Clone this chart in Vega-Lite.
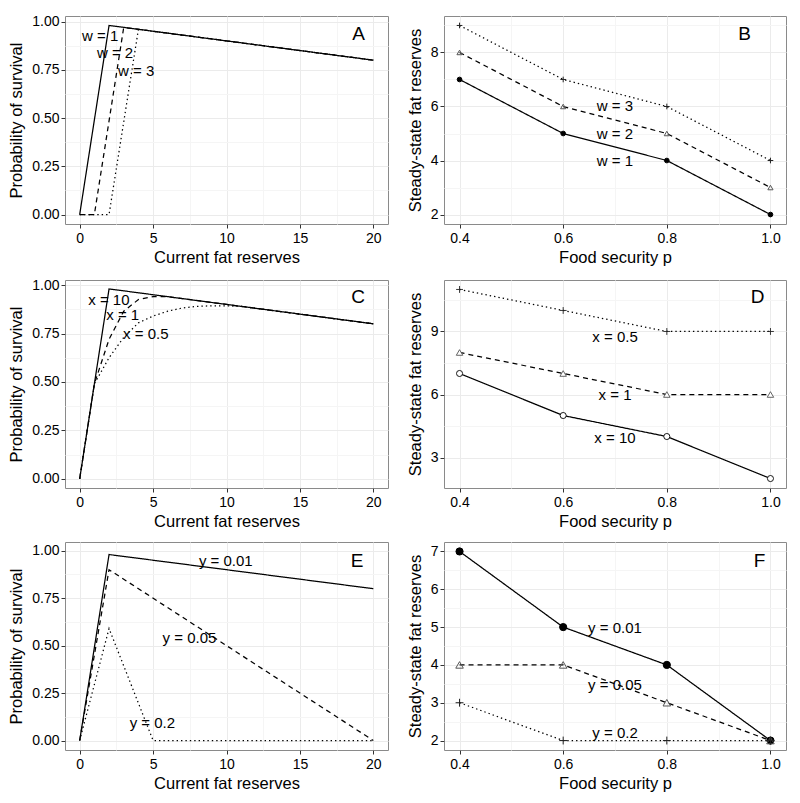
{
  "$schema": "https://vega.github.io/schema/vega-lite/v6.json",
  "padding": {"left": 8, "top": 14, "right": 5, "bottom": 5},
  "background": "white",
  "config": {
    "font": "Liberation Sans",
    "view": {"stroke": "#8a8a8a", "strokeWidth": 1},
    "axis": {
      "labelFontSize": 14, "labelColor": "black", "titleFontSize": 16.5, "titleFontWeight": "normal",
      "titleColor": "black", "tickColor": "#333333", "tickSize": 4, "domain": false,
      "gridColor": "#ebebeb", "labelFont": "Liberation Sans", "titleFont": "Liberation Sans"
    },
    "axisX": {"labelPadding": 3, "titlePadding": 4},
    "axisY": {"labelPadding": 2, "titlePadding": 7},
    "text": {"font": "Liberation Sans", "color": "black"}
  },
  "datasets": {
    "curves": [
      {"panel": "A", "s": "w = 1", "x": 0, "y": 0},
      {"panel": "A", "s": "w = 1", "x": 2, "y": 0.98},
      {"panel": "A", "s": "w = 1", "x": 20, "y": 0.8},
      {"panel": "A", "s": "w = 2", "x": 0, "y": 0},
      {"panel": "A", "s": "w = 2", "x": 1, "y": 0},
      {"panel": "A", "s": "w = 2", "x": 3, "y": 0.97},
      {"panel": "A", "s": "w = 2", "x": 20, "y": 0.8},
      {"panel": "A", "s": "w = 3", "x": 0, "y": 0},
      {"panel": "A", "s": "w = 3", "x": 2, "y": 0},
      {"panel": "A", "s": "w = 3", "x": 4, "y": 0.96},
      {"panel": "A", "s": "w = 3", "x": 20, "y": 0.8},
      {"panel": "C", "s": "x = 10", "x": 0, "y": 0},
      {"panel": "C", "s": "x = 10", "x": 2, "y": 0.98},
      {"panel": "C", "s": "x = 10", "x": 20, "y": 0.8},
      {"panel": "C", "s": "x = 1", "x": 0, "y": 0},
      {"panel": "C", "s": "x = 1", "x": 1, "y": 0.49},
      {"panel": "C", "s": "x = 1", "x": 2, "y": 0.72},
      {"panel": "C", "s": "x = 1", "x": 3, "y": 0.865},
      {"panel": "C", "s": "x = 1", "x": 4, "y": 0.925},
      {"panel": "C", "s": "x = 1", "x": 5, "y": 0.94},
      {"panel": "C", "s": "x = 1", "x": 6, "y": 0.94},
      {"panel": "C", "s": "x = 1", "x": 7, "y": 0.93},
      {"panel": "C", "s": "x = 1", "x": 20, "y": 0.8},
      {"panel": "C", "s": "x = 0.5", "x": 0, "y": 0},
      {"panel": "C", "s": "x = 0.5", "x": 1, "y": 0.49},
      {"panel": "C", "s": "x = 0.5", "x": 2, "y": 0.625},
      {"panel": "C", "s": "x = 0.5", "x": 3, "y": 0.73},
      {"panel": "C", "s": "x = 0.5", "x": 4, "y": 0.805},
      {"panel": "C", "s": "x = 0.5", "x": 5, "y": 0.84},
      {"panel": "C", "s": "x = 0.5", "x": 6, "y": 0.865},
      {"panel": "C", "s": "x = 0.5", "x": 7, "y": 0.882},
      {"panel": "C", "s": "x = 0.5", "x": 8, "y": 0.89},
      {"panel": "C", "s": "x = 0.5", "x": 9, "y": 0.893},
      {"panel": "C", "s": "x = 0.5", "x": 10, "y": 0.893},
      {"panel": "C", "s": "x = 0.5", "x": 11, "y": 0.89},
      {"panel": "C", "s": "x = 0.5", "x": 20, "y": 0.8},
      {"panel": "E", "s": "y = 0.01", "x": 0, "y": 0},
      {"panel": "E", "s": "y = 0.01", "x": 2, "y": 0.98},
      {"panel": "E", "s": "y = 0.01", "x": 20, "y": 0.8},
      {"panel": "E", "s": "y = 0.05", "x": 0, "y": 0},
      {"panel": "E", "s": "y = 0.05", "x": 2, "y": 0.9},
      {"panel": "E", "s": "y = 0.05", "x": 20, "y": 0},
      {"panel": "E", "s": "y = 0.2", "x": 0, "y": 0},
      {"panel": "E", "s": "y = 0.2", "x": 2, "y": 0.59},
      {"panel": "E", "s": "y = 0.2", "x": 5, "y": 0},
      {"panel": "E", "s": "y = 0.2", "x": 20, "y": 0}
    ],
    "steady": [
      {"panel": "B", "s": "w = 1", "p": 0.4, "y": 7},
      {"panel": "B", "s": "w = 1", "p": 0.6, "y": 5},
      {"panel": "B", "s": "w = 1", "p": 0.8, "y": 4},
      {"panel": "B", "s": "w = 1", "p": 1.0, "y": 2},
      {"panel": "B", "s": "w = 2", "p": 0.4, "y": 8},
      {"panel": "B", "s": "w = 2", "p": 0.6, "y": 6},
      {"panel": "B", "s": "w = 2", "p": 0.8, "y": 5},
      {"panel": "B", "s": "w = 2", "p": 1.0, "y": 3},
      {"panel": "B", "s": "w = 3", "p": 0.4, "y": 9},
      {"panel": "B", "s": "w = 3", "p": 0.6, "y": 7},
      {"panel": "B", "s": "w = 3", "p": 0.8, "y": 6},
      {"panel": "B", "s": "w = 3", "p": 1.0, "y": 4},
      {"panel": "D", "s": "x = 10", "p": 0.4, "y": 7},
      {"panel": "D", "s": "x = 10", "p": 0.6, "y": 5},
      {"panel": "D", "s": "x = 10", "p": 0.8, "y": 4},
      {"panel": "D", "s": "x = 10", "p": 1.0, "y": 2},
      {"panel": "D", "s": "x = 1", "p": 0.4, "y": 8},
      {"panel": "D", "s": "x = 1", "p": 0.6, "y": 7},
      {"panel": "D", "s": "x = 1", "p": 0.8, "y": 6},
      {"panel": "D", "s": "x = 1", "p": 1.0, "y": 6},
      {"panel": "D", "s": "x = 0.5", "p": 0.4, "y": 11},
      {"panel": "D", "s": "x = 0.5", "p": 0.6, "y": 10},
      {"panel": "D", "s": "x = 0.5", "p": 0.8, "y": 9},
      {"panel": "D", "s": "x = 0.5", "p": 1.0, "y": 9},
      {"panel": "F", "s": "y = 0.01", "p": 0.4, "y": 7},
      {"panel": "F", "s": "y = 0.01", "p": 0.6, "y": 5},
      {"panel": "F", "s": "y = 0.01", "p": 0.8, "y": 4},
      {"panel": "F", "s": "y = 0.01", "p": 1.0, "y": 2},
      {"panel": "F", "s": "y = 0.05", "p": 0.4, "y": 4},
      {"panel": "F", "s": "y = 0.05", "p": 0.6, "y": 4},
      {"panel": "F", "s": "y = 0.05", "p": 0.8, "y": 3},
      {"panel": "F", "s": "y = 0.05", "p": 1.0, "y": 2},
      {"panel": "F", "s": "y = 0.2", "p": 0.4, "y": 3},
      {"panel": "F", "s": "y = 0.2", "p": 0.6, "y": 2},
      {"panel": "F", "s": "y = 0.2", "p": 0.8, "y": 2},
      {"panel": "F", "s": "y = 0.2", "p": 1.0, "y": 2}
    ],
    "notes": [
      {"panel": "A", "x": 1.39, "y": 0.926, "t": "w = 1"},
      {"panel": "A", "x": 2.41, "y": 0.838, "t": "w = 2"},
      {"panel": "A", "x": 3.85, "y": 0.742, "t": "w = 3"},
      {"panel": "B", "x": 0.7, "y": 6, "t": "w = 3"},
      {"panel": "B", "x": 0.7, "y": 5, "t": "w = 2"},
      {"panel": "B", "x": 0.7, "y": 4, "t": "w = 1"},
      {"panel": "C", "x": 1.99, "y": 0.922, "t": "x = 10"},
      {"panel": "C", "x": 2.93, "y": 0.843, "t": "x = 1"},
      {"panel": "C", "x": 4.5, "y": 0.746, "t": "x = 0.5"},
      {"panel": "D", "x": 0.7, "y": 8.73, "t": "x = 0.5"},
      {"panel": "D", "x": 0.7, "y": 5.96, "t": "x = 1"},
      {"panel": "D", "x": 0.7, "y": 3.93, "t": "x = 10"},
      {"panel": "E", "x": 9.95, "y": 0.944, "t": "y = 0.01"},
      {"panel": "E", "x": 7.48, "y": 0.539, "t": "y = 0.05"},
      {"panel": "E", "x": 4.95, "y": 0.091, "t": "y = 0.2"},
      {"panel": "F", "x": 0.7, "y": 4.97, "t": "y = 0.01"},
      {"panel": "F", "x": 0.7, "y": 3.47, "t": "y = 0.05"},
      {"panel": "F", "x": 0.7, "y": 2.19, "t": "y = 0.2"}
    ],
    "letters": [
      {"panel": "A", "x": 19, "y": 0.935, "t": "A"},
      {"panel": "B", "x": 0.95, "y": 8.68, "t": "B"},
      {"panel": "C", "x": 18.96, "y": 0.94, "t": "C"},
      {"panel": "D", "x": 0.975, "y": 10.63, "t": "D"},
      {"panel": "E", "x": 18.9, "y": 0.944, "t": "E"},
      {"panel": "F", "x": 0.979, "y": 6.74, "t": "F"}
    ]
  },
  "spacing": 11,
  "vconcat": [
    {
      "spacing": 17,
      "hconcat": [
        {
          "width": 323, "height": 208,
          "layer": [
            {"data": {"name": "curves"}, "transform": [{"filter": "datum.panel == 'A'"}],
             "mark": {"type": "line", "color": "black", "strokeWidth": 1.25},
             "encoding": {
               "x": {"field": "x", "type": "quantitative", "scale": {"domain": [-1, 21], "nice": false, "zero": false}, "axis": {"values": [2.5, 7.5, 12.5, 17.5], "grid": true, "gridColor": "#f5f5f5", "labels": false, "ticks": false, "domain": false, "title": null, "orient": "top"}},
               "y": {"field": "y", "type": "quantitative", "scale": {"domain": [-0.049, 1.029], "nice": false, "zero": false}, "axis": {"values": [0.125, 0.375, 0.625, 0.875], "grid": true, "gridColor": "#f5f5f5", "labels": false, "ticks": false, "domain": false, "title": null, "orient": "right"}},
               "strokeDash": {"field": "s", "type": "nominal", "scale": {"domain": ["w = 1", "w = 2", "w = 3"], "range": [[1, 0], [5, 4], [1.4, 3]]}, "legend": null}
             }},
            {"data": {"name": "notes"}, "transform": [{"filter": "datum.panel == 'A'"}],
             "mark": {"type": "text", "fontSize": 15},
             "encoding": {
               "x": {"field": "x", "type": "quantitative", "scale": {"domain": [-1, 21], "nice": false, "zero": false}, "axis": {"values": [0, 5, 10, 15, 20], "title": "Current fat reserves", "orient": "bottom", "grid": true}},
               "y": {"field": "y", "type": "quantitative", "scale": {"domain": [-0.049, 1.029], "nice": false, "zero": false}, "axis": {"values": [0, 0.25, 0.5, 0.75, 1], "format": ".2f", "title": "Probability of survival", "orient": "left", "grid": true}},
               "text": {"field": "t"}
             }},
            {"data": {"name": "letters"}, "transform": [{"filter": "datum.panel == 'A'"}],
             "mark": {"type": "text", "fontSize": 19},
             "encoding": {
               "x": {"field": "x", "type": "quantitative", "scale": {"domain": [-1, 21], "nice": false, "zero": false}, "axis": null},
               "y": {"field": "y", "type": "quantitative", "scale": {"domain": [-0.049, 1.029], "nice": false, "zero": false}, "axis": null},
               "text": {"field": "t"}
             }}
          ],
          "resolve": {"axis": {"x": "independent", "y": "independent"}}
        },
        {
          "width": 342, "height": 208,
          "layer": [
            {"data": {"name": "steady"}, "transform": [{"filter": "datum.panel == 'B'"}],
             "mark": {"type": "line", "color": "black", "strokeWidth": 1.25},
             "encoding": {
               "x": {"field": "p", "type": "quantitative", "scale": {"domain": [0.37, 1.03], "nice": false, "zero": false}, "axis": {"values": [0.5, 0.7, 0.9], "grid": true, "gridColor": "#f5f5f5", "labels": false, "ticks": false, "domain": false, "title": null, "orient": "top"}},
               "y": {"field": "y", "type": "quantitative", "scale": {"domain": [1.65, 9.35], "nice": false, "zero": false}, "axis": {"values": [3, 5, 7, 9], "grid": true, "gridColor": "#f5f5f5", "labels": false, "ticks": false, "domain": false, "title": null, "orient": "right"}},
               "strokeDash": {"field": "s", "type": "nominal", "scale": {"domain": ["w = 1", "w = 2", "w = 3"], "range": [[1, 0], [5, 4], [1.4, 3]]}, "legend": null}
             }},
            {"data": {"name": "steady"}, "transform": [{"filter": "datum.panel == 'B'"}],
             "mark": {"type": "point", "strokeWidth": 1, "opacity": 1, "filled": false},
             "encoding": {
               "x": {"field": "p", "type": "quantitative", "scale": {"domain": [0.37, 1.03], "nice": false, "zero": false}, "axis": {"values": [0.4, 0.6, 0.8, 1.0], "format": ".1f", "title": "Food security p", "orient": "bottom", "grid": true}},
               "y": {"field": "y", "type": "quantitative", "scale": {"domain": [1.65, 9.35], "nice": false, "zero": false}, "axis": {"values": [2, 4, 6, 8], "title": "Steady-state fat reserves", "orient": "left", "grid": true}},
               "shape": {"field": "s", "type": "nominal", "scale": {"domain": ["w = 1", "w = 2", "w = 3"], "range": ["circle", "triangle-up", "M-1,0H1M0,-1V1"]}, "legend": null},
               "fill": {"field": "s", "type": "nominal", "scale": {"domain": ["w = 1", "w = 2", "w = 3"], "range": ["black", "transparent", "transparent"]}, "legend": null},
               "stroke": {"field": "s", "type": "nominal", "scale": {"domain": ["w = 1", "w = 2", "w = 3"], "range": ["black", "#555555", "#222222"]}, "legend": null},
               "size": {"field": "s", "type": "nominal", "scale": {"domain": ["w = 1", "w = 2", "w = 3"], "range": [22, 62, 72]}, "legend": null}
             }},
            {"data": {"name": "notes"}, "transform": [{"filter": "datum.panel == 'B'"}],
             "mark": {"type": "text", "fontSize": 15},
             "encoding": {
               "x": {"field": "x", "type": "quantitative", "scale": {"domain": [0.37, 1.03], "nice": false, "zero": false}, "axis": null},
               "y": {"field": "y", "type": "quantitative", "scale": {"domain": [1.65, 9.35], "nice": false, "zero": false}, "axis": null},
               "text": {"field": "t"}
             }},
            {"data": {"name": "letters"}, "transform": [{"filter": "datum.panel == 'B'"}],
             "mark": {"type": "text", "fontSize": 19},
             "encoding": {
               "x": {"field": "x", "type": "quantitative", "scale": {"domain": [0.37, 1.03], "nice": false, "zero": false}, "axis": null},
               "y": {"field": "y", "type": "quantitative", "scale": {"domain": [1.65, 9.35], "nice": false, "zero": false}, "axis": null},
               "text": {"field": "t"}
             }}
          ],
          "resolve": {"axis": {"x": "independent", "y": "independent"}}
        }
      ]
    },
    {
      "spacing": 17,
      "hconcat": [
        {
          "width": 323, "height": 208,
          "layer": [
            {"data": {"name": "curves"}, "transform": [{"filter": "datum.panel == 'C'"}],
             "mark": {"type": "line", "color": "black", "strokeWidth": 1.25},
             "encoding": {
               "x": {"field": "x", "type": "quantitative", "scale": {"domain": [-1, 21], "nice": false, "zero": false}, "axis": {"values": [2.5, 7.5, 12.5, 17.5], "grid": true, "gridColor": "#f5f5f5", "labels": false, "ticks": false, "domain": false, "title": null, "orient": "top"}},
               "y": {"field": "y", "type": "quantitative", "scale": {"domain": [-0.047, 1.026], "nice": false, "zero": false}, "axis": {"values": [0.125, 0.375, 0.625, 0.875], "grid": true, "gridColor": "#f5f5f5", "labels": false, "ticks": false, "domain": false, "title": null, "orient": "right"}},
               "strokeDash": {"field": "s", "type": "nominal", "scale": {"domain": ["x = 10", "x = 1", "x = 0.5"], "range": [[1, 0], [5, 4], [1.4, 3]]}, "legend": null}
             }},
            {"data": {"name": "notes"}, "transform": [{"filter": "datum.panel == 'C'"}],
             "mark": {"type": "text", "fontSize": 15},
             "encoding": {
               "x": {"field": "x", "type": "quantitative", "scale": {"domain": [-1, 21], "nice": false, "zero": false}, "axis": {"values": [0, 5, 10, 15, 20], "title": "Current fat reserves", "orient": "bottom", "grid": true}},
               "y": {"field": "y", "type": "quantitative", "scale": {"domain": [-0.047, 1.026], "nice": false, "zero": false}, "axis": {"values": [0, 0.25, 0.5, 0.75, 1], "format": ".2f", "title": "Probability of survival", "orient": "left", "grid": true}},
               "text": {"field": "t"}
             }},
            {"data": {"name": "letters"}, "transform": [{"filter": "datum.panel == 'C'"}],
             "mark": {"type": "text", "fontSize": 19},
             "encoding": {
               "x": {"field": "x", "type": "quantitative", "scale": {"domain": [-1, 21], "nice": false, "zero": false}, "axis": null},
               "y": {"field": "y", "type": "quantitative", "scale": {"domain": [-0.047, 1.026], "nice": false, "zero": false}, "axis": null},
               "text": {"field": "t"}
             }}
          ],
          "resolve": {"axis": {"x": "independent", "y": "independent"}}
        },
        {
          "width": 342, "height": 208,
          "layer": [
            {"data": {"name": "steady"}, "transform": [{"filter": "datum.panel == 'D'"}],
             "mark": {"type": "line", "color": "black", "strokeWidth": 1.25},
             "encoding": {
               "x": {"field": "p", "type": "quantitative", "scale": {"domain": [0.37, 1.03], "nice": false, "zero": false}, "axis": {"values": [0.5, 0.7, 0.9], "grid": true, "gridColor": "#f5f5f5", "labels": false, "ticks": false, "domain": false, "title": null, "orient": "top"}},
               "y": {"field": "y", "type": "quantitative", "scale": {"domain": [1.55, 11.45], "nice": false, "zero": false}, "axis": {"values": [4.5, 7.5, 10.5], "grid": true, "gridColor": "#f5f5f5", "labels": false, "ticks": false, "domain": false, "title": null, "orient": "right"}},
               "strokeDash": {"field": "s", "type": "nominal", "scale": {"domain": ["x = 10", "x = 1", "x = 0.5"], "range": [[1, 0], [5, 4], [1.4, 3]]}, "legend": null}
             }},
            {"data": {"name": "steady"}, "transform": [{"filter": "datum.panel == 'D'"}],
             "mark": {"type": "point", "strokeWidth": 0.9, "opacity": 1, "filled": false, "fill": "white"},
             "encoding": {
               "x": {"field": "p", "type": "quantitative", "scale": {"domain": [0.37, 1.03], "nice": false, "zero": false}, "axis": {"values": [0.4, 0.6, 0.8, 1.0], "format": ".1f", "title": "Food security p", "orient": "bottom", "grid": true}},
               "y": {"field": "y", "type": "quantitative", "scale": {"domain": [1.55, 11.45], "nice": false, "zero": false}, "axis": {"values": [3, 6, 9], "title": "Steady-state fat reserves", "orient": "left", "grid": true}},
               "shape": {"field": "s", "type": "nominal", "scale": {"domain": ["x = 10", "x = 1", "x = 0.5"], "range": ["circle", "triangle-up", "M-1,0H1M0,-1V1"]}, "legend": null},
               "stroke": {"field": "s", "type": "nominal", "scale": {"domain": ["x = 10", "x = 1", "x = 0.5"], "range": ["#555555", "#555555", "#222222"]}, "legend": null},
               "size": {"field": "s", "type": "nominal", "scale": {"domain": ["x = 10", "x = 1", "x = 0.5"], "range": [24, 62, 72]}, "legend": null}
             }},
            {"data": {"name": "notes"}, "transform": [{"filter": "datum.panel == 'D'"}],
             "mark": {"type": "text", "fontSize": 15},
             "encoding": {
               "x": {"field": "x", "type": "quantitative", "scale": {"domain": [0.37, 1.03], "nice": false, "zero": false}, "axis": null},
               "y": {"field": "y", "type": "quantitative", "scale": {"domain": [1.55, 11.45], "nice": false, "zero": false}, "axis": null},
               "text": {"field": "t"}
             }},
            {"data": {"name": "letters"}, "transform": [{"filter": "datum.panel == 'D'"}],
             "mark": {"type": "text", "fontSize": 19},
             "encoding": {
               "x": {"field": "x", "type": "quantitative", "scale": {"domain": [0.37, 1.03], "nice": false, "zero": false}, "axis": null},
               "y": {"field": "y", "type": "quantitative", "scale": {"domain": [1.55, 11.45], "nice": false, "zero": false}, "axis": null},
               "text": {"field": "t"}
             }}
          ],
          "resolve": {"axis": {"x": "independent", "y": "independent"}}
        }
      ]
    },
    {
      "spacing": 17,
      "hconcat": [
        {
          "width": 323, "height": 208,
          "layer": [
            {"data": {"name": "curves"}, "transform": [{"filter": "datum.panel == 'E'"}],
             "mark": {"type": "line", "color": "black", "strokeWidth": 1.25},
             "encoding": {
               "x": {"field": "x", "type": "quantitative", "scale": {"domain": [-1, 21], "nice": false, "zero": false}, "axis": {"values": [2.5, 7.5, 12.5, 17.5], "grid": true, "gridColor": "#f5f5f5", "labels": false, "ticks": false, "domain": false, "title": null, "orient": "top"}},
               "y": {"field": "y", "type": "quantitative", "scale": {"domain": [-0.05, 1.046], "nice": false, "zero": false}, "axis": {"values": [0.125, 0.375, 0.625, 0.875], "grid": true, "gridColor": "#f5f5f5", "labels": false, "ticks": false, "domain": false, "title": null, "orient": "right"}},
               "strokeDash": {"field": "s", "type": "nominal", "scale": {"domain": ["y = 0.01", "y = 0.05", "y = 0.2"], "range": [[1, 0], [5, 4], [1.4, 3]]}, "legend": null}
             }},
            {"data": {"name": "notes"}, "transform": [{"filter": "datum.panel == 'E'"}],
             "mark": {"type": "text", "fontSize": 15},
             "encoding": {
               "x": {"field": "x", "type": "quantitative", "scale": {"domain": [-1, 21], "nice": false, "zero": false}, "axis": {"values": [0, 5, 10, 15, 20], "title": "Current fat reserves", "orient": "bottom", "grid": true}},
               "y": {"field": "y", "type": "quantitative", "scale": {"domain": [-0.05, 1.046], "nice": false, "zero": false}, "axis": {"values": [0, 0.25, 0.5, 0.75, 1], "format": ".2f", "title": "Probability of survival", "orient": "left", "grid": true}},
               "text": {"field": "t"}
             }},
            {"data": {"name": "letters"}, "transform": [{"filter": "datum.panel == 'E'"}],
             "mark": {"type": "text", "fontSize": 19},
             "encoding": {
               "x": {"field": "x", "type": "quantitative", "scale": {"domain": [-1, 21], "nice": false, "zero": false}, "axis": null},
               "y": {"field": "y", "type": "quantitative", "scale": {"domain": [-0.05, 1.046], "nice": false, "zero": false}, "axis": null},
               "text": {"field": "t"}
             }}
          ],
          "resolve": {"axis": {"x": "independent", "y": "independent"}}
        },
        {
          "width": 342, "height": 208,
          "layer": [
            {"data": {"name": "steady"}, "transform": [{"filter": "datum.panel == 'F'"}],
             "mark": {"type": "line", "color": "black", "strokeWidth": 1.25},
             "encoding": {
               "x": {"field": "p", "type": "quantitative", "scale": {"domain": [0.37, 1.03], "nice": false, "zero": false}, "axis": {"values": [0.5, 0.7, 0.9], "grid": true, "gridColor": "#f5f5f5", "labels": false, "ticks": false, "domain": false, "title": null, "orient": "top"}},
               "y": {"field": "y", "type": "quantitative", "scale": {"domain": [1.75, 7.25], "nice": false, "zero": false}, "axis": {"values": [2.5, 3.5, 4.5, 5.5, 6.5], "grid": true, "gridColor": "#f5f5f5", "labels": false, "ticks": false, "domain": false, "title": null, "orient": "right"}},
               "strokeDash": {"field": "s", "type": "nominal", "scale": {"domain": ["y = 0.01", "y = 0.05", "y = 0.2"], "range": [[1, 0], [5, 4], [1.4, 3]]}, "legend": null}
             }},
            {"data": {"name": "steady"}, "transform": [{"filter": "datum.panel == 'F'"}],
             "mark": {"type": "point", "strokeWidth": 1, "opacity": 1, "filled": false},
             "encoding": {
               "x": {"field": "p", "type": "quantitative", "scale": {"domain": [0.37, 1.03], "nice": false, "zero": false}, "axis": {"values": [0.4, 0.6, 0.8, 1.0], "format": ".1f", "title": "Food security p", "orient": "bottom", "grid": true}},
               "y": {"field": "y", "type": "quantitative", "scale": {"domain": [1.75, 7.25], "nice": false, "zero": false}, "axis": {"values": [2, 3, 4, 5, 6, 7], "title": "Steady-state fat reserves", "orient": "left", "grid": true}},
               "shape": {"field": "s", "type": "nominal", "scale": {"domain": ["y = 0.01", "y = 0.05", "y = 0.2"], "range": ["circle", "triangle-up", "M-1,0H1M0,-1V1"]}, "legend": null},
               "fill": {"field": "s", "type": "nominal", "scale": {"domain": ["y = 0.01", "y = 0.05", "y = 0.2"], "range": ["black", "transparent", "transparent"]}, "legend": null},
               "stroke": {"field": "s", "type": "nominal", "scale": {"domain": ["y = 0.01", "y = 0.05", "y = 0.2"], "range": ["black", "#555555", "#222222"]}, "legend": null},
               "size": {"field": "s", "type": "nominal", "scale": {"domain": ["y = 0.01", "y = 0.05", "y = 0.2"], "range": [22, 62, 72]}, "legend": null}
             }},
            {"data": {"name": "notes"}, "transform": [{"filter": "datum.panel == 'F'"}],
             "mark": {"type": "text", "fontSize": 15},
             "encoding": {
               "x": {"field": "x", "type": "quantitative", "scale": {"domain": [0.37, 1.03], "nice": false, "zero": false}, "axis": null},
               "y": {"field": "y", "type": "quantitative", "scale": {"domain": [1.75, 7.25], "nice": false, "zero": false}, "axis": null},
               "text": {"field": "t"}
             }},
            {"data": {"name": "letters"}, "transform": [{"filter": "datum.panel == 'F'"}],
             "mark": {"type": "text", "fontSize": 19},
             "encoding": {
               "x": {"field": "x", "type": "quantitative", "scale": {"domain": [0.37, 1.03], "nice": false, "zero": false}, "axis": null},
               "y": {"field": "y", "type": "quantitative", "scale": {"domain": [1.75, 7.25], "nice": false, "zero": false}, "axis": null},
               "text": {"field": "t"}
             }}
          ],
          "resolve": {"axis": {"x": "independent", "y": "independent"}}
        }
      ]
    }
  ]
}
